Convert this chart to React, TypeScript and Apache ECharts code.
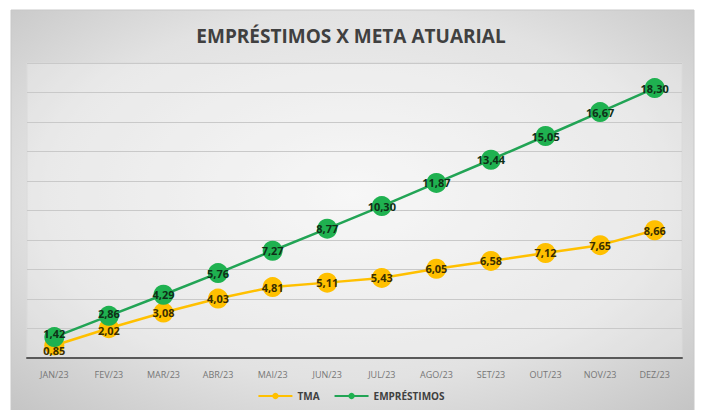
import React, { useEffect, useRef } from "react";
import * as echarts from "echarts";

const categories = ["JAN/23", "FEV/23", "MAR/23", "ABR/23", "MAI/23", "JUN/23", "JUL/23", "AGO/23", "SET/23", "OUT/23", "NOV/23", "DEZ/23"];
const tmaValues = [0.85, 2.02, 3.08, 4.03, 4.81, 5.11, 5.43, 6.05, 6.58, 7.12, 7.65, 8.66];
const emprestimosValues = [1.42, 2.86, 4.29, 5.76, 7.27, 8.77, 10.3, 11.87, 13.44, 15.05, 16.67, 18.3];
const seriesNames = ["TMA", "EMPRÉSTIMOS"];
const titleText = "EMPRÉSTIMOS X META ATUARIAL";

const fmt = (v: number) => v.toFixed(2).replace(".", ",");

// label nudges for the crowded first points (pixels)
const tmaNudge = [5, 2];
const empNudge = [-4, -2];

export default function App() {
  const ref = useRef<HTMLDivElement>(null);
  useEffect(() => {
    if (!ref.current) return;
    const chart = echarts.init(ref.current, null, { renderer: "svg" });
    const font = "'Open Sans', 'Noto Sans', sans-serif";
    const withNudge = (vals: number[], nudge: number[]) =>
      vals.map((v, i) =>
        i < nudge.length ? { value: v, label: { offset: [0, nudge[i]] } } : v
      );
    chart.setOption({
      animation: false,
      backgroundColor: "#ffffff",
      textStyle: { fontFamily: font },
      graphic: [
        {
          type: "rect",
          z: -10,
          silent: true,
          shape: { x: 11, y: 10, width: 683, height: 410 },
          style: {
            fill: new echarts.graphic.RadialGradient(0.5, 0.45, 0.75, [
              { offset: 0, color: "#f4f4f4" },
              { offset: 0.6, color: "#e2e2e2" },
              { offset: 1, color: "#c2c2c2" },
            ]),
            stroke: "#c8c8c8",
            lineWidth: 1,
          },
        },
        {
          type: "rect",
          z: -9,
          silent: true,
          shape: { x: 27, y: 63, width: 655, height: 295 },
          style: { fill: "rgba(255,255,255,0.25)", stroke: "#dadada", lineWidth: 1 },
        },
      ],
      title: {
        text: titleText,
        left: "center",
        top: 21,
        textStyle: { fontFamily: font, fontSize: 19, fontWeight: "bold", color: "#404040" },
      },
      legend: {
        bottom: 4,
        left: "center",
        itemWidth: 34,
        itemHeight: 8,
        itemGap: 14,
        data: seriesNames,
        textStyle: { fontFamily: font, fontSize: 10, fontWeight: "bold", color: "#404040" },
      },
      grid: { left: 27, right: 20, top: 63, bottom: 52 },
      xAxis: {
        type: "category",
        data: categories,
        boundaryGap: true,
        axisLine: { lineStyle: { color: "#595959", width: 2 } },
        axisTick: { show: false },
        axisLabel: { color: "#767676", fontSize: 9, margin: 12, fontFamily: font },
      },
      yAxis: {
        type: "value",
        min: 0,
        max: 20,
        interval: 2,
        axisLabel: { show: false },
        axisLine: { show: false },
        axisTick: { show: false },
        splitLine: { lineStyle: { color: "#c9c9c9", width: 1 } },
      },
      series: [
        {
          name: seriesNames[0],
          type: "line",
          data: withNudge(tmaValues, tmaNudge),
          symbol: "circle",
          symbolSize: 20,
          itemStyle: { color: "#ffc000" },
          lineStyle: { color: "#ffc000", width: 2.5 },
          label: {
            show: true,
            position: "inside",
            formatter: (p: any) => fmt(p.value),
            color: "#3a2e00",
            fontSize: 11,
            lineHeight: 11,
            fontWeight: "bold",
            fontFamily: font,
          },
          z: 2,
        },
        {
          name: seriesNames[1],
          type: "line",
          data: withNudge(emprestimosValues, empNudge),
          symbol: "circle",
          symbolSize: 20,
          itemStyle: { color: "#1fb150" },
          lineStyle: { color: "#22a455", width: 2.5 },
          label: {
            show: true,
            position: "inside",
            formatter: (p: any) => fmt(p.value),
            color: "#0f2f17",
            fontSize: 11,
            lineHeight: 11,
            fontWeight: "bold",
            fontFamily: font,
          },
          z: 3,
        },
      ],
    });
    return () => chart.dispose();
  }, []);
  return <div ref={ref} style={{ position: "fixed", left: 0, top: 0, width: 702, height: 410 }} />;
}
